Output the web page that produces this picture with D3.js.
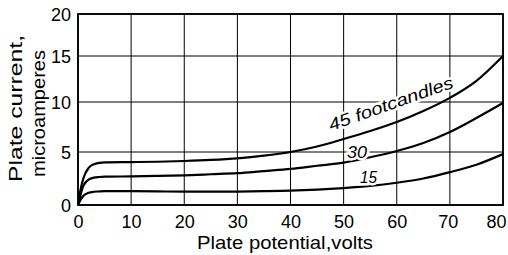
<!DOCTYPE html>
<html><head><meta charset="utf-8">
<script src="https://cdn.jsdelivr.net/npm/d3@7"></script>
<style>
html,body{margin:0;padding:0;background:#fff;}
svg text{font-family:"Liberation Sans","DejaVu Sans",sans-serif;fill:#000;}
</style></head>
<body>
<svg id="c" width="508" height="255"></svg>
<script>
// Data
const volts = [0, 0.5, 1, 2, 3, 4, 5, 10, 15, 20, 25, 30, 35, 40, 45, 50, 55, 60, 65, 70, 75, 80];
const fc45 = [0, 1.5, 2.5, 3.5, 3.85, 3.97, 4.02, 4.05, 4.08, 4.15, 4.25, 4.4, 4.65, 5.0, 5.55, 6.3, 7.1, 8.0, 9.1, 10.45, 12.3, 15.0];
const fc30 = [0, 1.0, 1.8, 2.4, 2.58, 2.64, 2.67, 2.7, 2.74, 2.8, 2.9, 3.0, 3.2, 3.4, 3.7, 4.0, 4.5, 5.1, 5.9, 7.0, 8.4, 9.9];
const fc15 = [0, 0.5, 0.85, 1.15, 1.25, 1.28, 1.3, 1.3, 1.28, 1.26, 1.26, 1.27, 1.3, 1.35, 1.45, 1.6, 1.8, 2.1, 2.5, 3.1, 3.8, 4.8];
const xTicks = [0, 10, 20, 30, 40, 50, 60, 70, 80];
const yTicks = [0, 5, 10, 15, 20];
const seriesLabels = ["45 footcandles", "30", "15"];

const svg = d3.select("#c");
const x = d3.scaleLinear().domain([0, 80]).range([78, 503]);
// the printed grid is slightly non-uniform vertically
const y = d3.scaleLinear().domain([0, 5, 10, 15, 20]).range([205, 152, 102, 56, 14]);

const g = svg.append("g");
// grid
g.selectAll("line.vx").data(xTicks).join("line")
  .attr("x1", d => x(d)).attr("x2", d => x(d))
  .attr("y1", y(0)).attr("y2", y(20))
  .attr("stroke", "#000").attr("stroke-width", 1);
g.selectAll("line.hy").data(yTicks).join("line")
  .attr("x1", x(0)).attr("x2", x(80))
  .attr("y1", d => y(d)).attr("y2", d => y(d))
  .attr("stroke", "#000").attr("stroke-width", 1);
// frame
g.append("rect").attr("x", x(0)).attr("y", y(20))
  .attr("width", x(80) - x(0)).attr("height", y(0) - y(20))
  .attr("fill", "none").attr("stroke", "#000").attr("stroke-width", 1.8);

// x axis ticks
const xa = svg.append("g").attr("transform", `translate(0,${y(0)})`)
  .call(d3.axisBottom(x).tickValues(xTicks).tickSize(0).tickPadding(16));
xa.select(".domain").remove();
xa.selectAll("text").attr("font-size", 18).attr("dy", 0).attr("y", 23)
  .attr("dx", d => d === 80 ? -7 : (d === 70 ? -2 : 0));
// y axis ticks
const ya = svg.append("g").attr("transform", `translate(${x(0)},0)`)
  .call(d3.axisLeft(y).tickValues(yTicks).tickSize(0).tickPadding(7));
ya.select(".domain").remove();
ya.selectAll("text").attr("font-size", 18).attr("dy", "0.35em");

// curves
const line = d3.line().x(d => x(d[0])).y(d => y(d[1])).curve(d3.curveMonotoneX);
[fc45, fc30, fc15].forEach(s => {
  svg.append("path").datum(volts.map((v, i) => [v, s[i]]))
    .attr("d", line).attr("fill", "none").attr("stroke", "#000")
    .attr("stroke-width", 2.2).attr("stroke-linejoin", "round");
});

// curve labels
function lab(t, px, py, rot, len) {
  const tx = svg.append("text").attr("transform", `translate(${px},${py}) rotate(${rot})`)
    .attr("font-size", 17).attr("font-style", "italic")
    .attr("stroke", "#fff").attr("stroke-width", 5).attr("paint-order", "stroke")
    .text(t);
  if (len) tx.attr("textLength", len).attr("lengthAdjust", "spacingAndGlyphs");
}
lab(seriesLabels[0], 331, 131, -19.5, 131);
lab(seriesLabels[1], 347, 158, 0, 20);
lab(seriesLabels[2], 360, 183, 0, 17);

// axis titles
svg.append("text").attr("x", 197).attr("y", 249).attr("font-size", 19)
  .attr("textLength", 176).attr("lengthAdjust", "spacingAndGlyphs")
  .text("Plate potential,volts");
svg.append("text").attr("transform", "translate(22,182) rotate(-90)").attr("font-size", 19)
  .attr("textLength", 147).attr("lengthAdjust", "spacingAndGlyphs")
  .text("Plate current,");
svg.append("text").attr("transform", "translate(45,177) rotate(-90)").attr("font-size", 19)
  .attr("textLength", 127).attr("lengthAdjust", "spacingAndGlyphs")
  .text("microamperes");
</script>
</body></html>
